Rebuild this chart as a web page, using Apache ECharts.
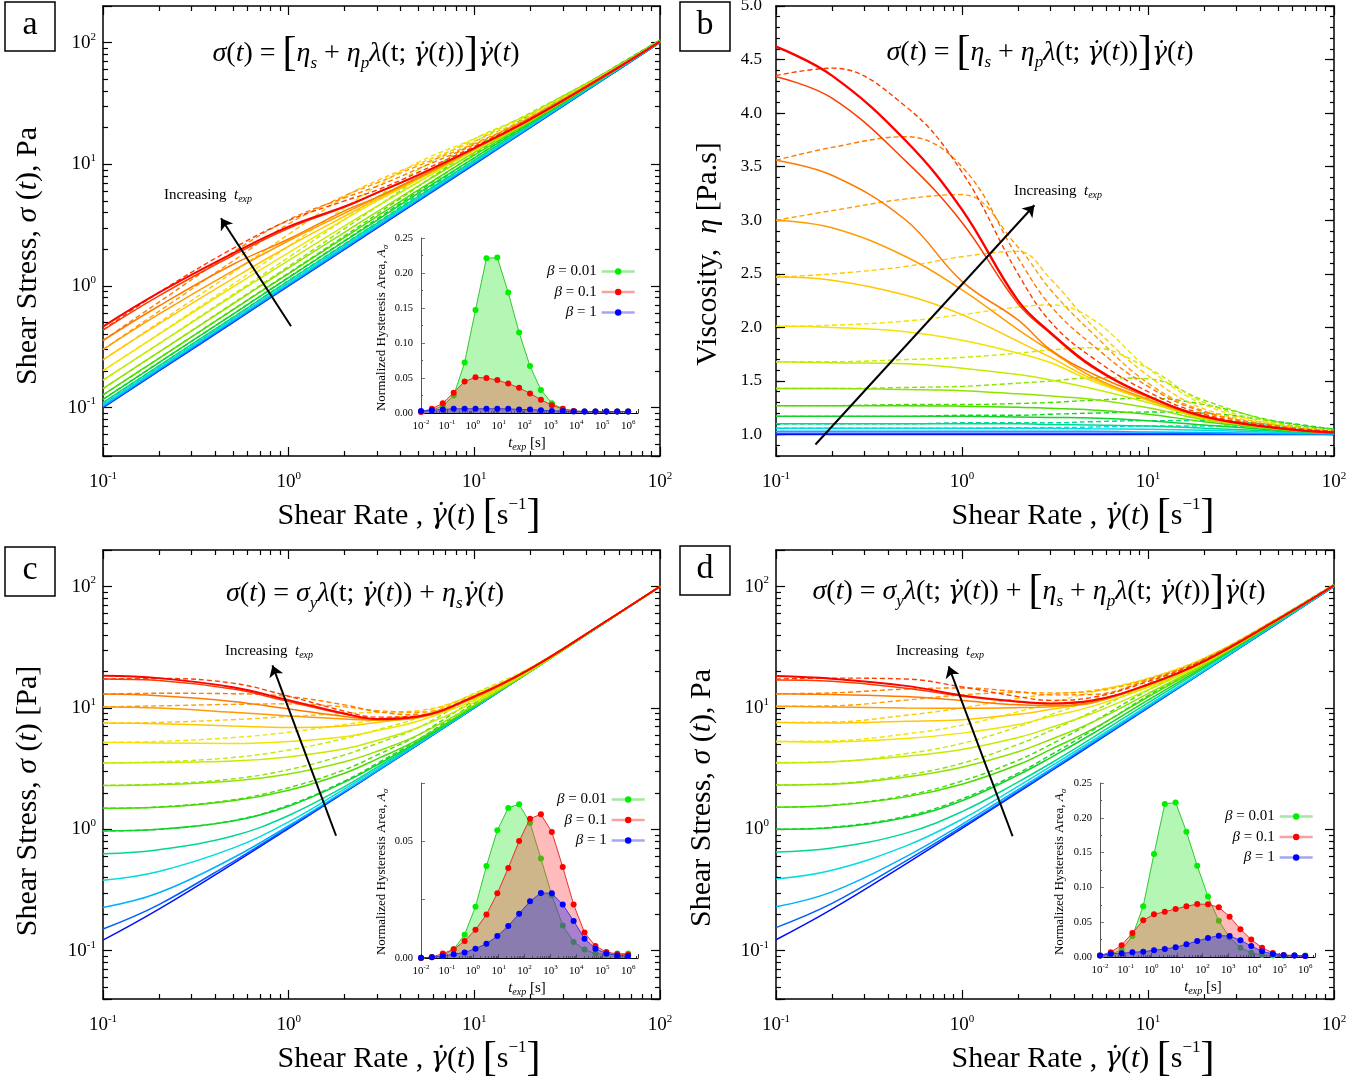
<!DOCTYPE html>
<html>
<head>
<meta charset="utf-8">
<script src="https://cdn.jsdelivr.net/npm/echarts@6/dist/echarts.min.js"></script>
<style>
  html, body { margin: 0; background: #fff; }
  #chart { width: 1372px; height: 1083px; }
</style>
</head>
<body>
<div id="chart"></div>
<script>
var rates = [0.1, 0.2, 0.5, 1, 2, 3, 5, 10, 20, 50, 100];
// from longest t_exp (red) to shortest (blue)
var sweepColors = ['#ff0000', '#ff3c00', '#ff7a00', '#ff9c00', '#ffc800', '#f0e400', '#c4ec00', '#8ee400',
                   '#48dc00', '#10d428', '#00d890', '#00dce0', '#00b0ff', '#0060ff', '#0010ff'];

// panel a : shear stress [Pa]
var aSolid = [
  [0.463, 0.88, 1.85, 3.07, 4.5, 5.85, 8.2, 13.6, 23.4, 53, 102],
  [0.434, 0.83, 1.78, 2.98, 4.44, 5.82, 8.15, 13.6, 23.4, 53, 102],
  [0.356, 0.684, 1.5, 2.43, 4.14, 5.37, 7.85, 13.5, 23.4, 53, 102],
  [0.30, 0.586, 1.33, 2.35, 3.96, 5.34, 7.7, 13.3, 23.2, 53, 102],
  [0.247, 0.488, 1.15, 2.12, 3.74, 5.16, 7.6, 13.2, 23.2, 53, 102],
  [0.201, 0.40, 0.98, 1.88, 3.52, 5.0, 7.5, 13.2, 23.2, 53, 102],
  [0.168, 0.334, 0.83, 1.62, 3.12, 4.53, 7.15, 13.0, 23.0, 53, 102],
  [0.143, 0.286, 0.71, 1.41, 2.76, 4.08, 6.65, 12.5, 22.8, 52.5, 102],
  [0.127, 0.254, 0.635, 1.265, 2.51, 3.74, 6.15, 11.9, 22.4, 52.5, 102],
  [0.117, 0.234, 0.585, 1.17, 2.33, 3.48, 5.78, 11.3, 21.8, 52, 102],
  [0.110, 0.22, 0.55, 1.10, 2.2, 3.29, 5.45, 10.8, 21.2, 51.5, 101],
  [0.106, 0.212, 0.53, 1.06, 2.12, 3.18, 5.28, 10.5, 20.8, 51, 101],
  [0.103, 0.206, 0.515, 1.03, 2.06, 3.09, 5.15, 10.25, 20.4, 50.5, 100.5],
  [0.101, 0.202, 0.506, 1.012, 2.02, 3.04, 5.06, 10.1, 20.2, 50.3, 100.3],
  [0.1, 0.2, 0.5, 1, 2, 3, 5, 10, 20, 50, 100]
];
var aDashed = [
  [0.435, 0.884, 2.03, 3.45, 5.0, 6.15, 8.6, 14.0, 23.8, 53.5, 103],
  [0.356, 0.736, 1.89, 3.5, 5.3, 6.6, 9.2, 14.5, 24.2, 54, 103],
  [0.30, 0.618, 1.6, 3.24, 5.5, 7.05, 9.75, 14.8, 24.4, 54, 103],
  [0.247, 0.50, 1.29, 2.66, 5.42, 7.35, 10.1, 15.5, 24.8, 54.5, 103],
  [0.201, 0.404, 1.03, 2.12, 4.38, 6.63, 10.4, 16.2, 25.6, 54.5, 103],
  [0.168, 0.336, 0.85, 1.72, 3.52, 5.37, 9.05, 16.2, 26, 55, 104],
  [0.143, 0.286, 0.72, 1.45, 2.96, 4.5, 7.65, 15.2, 26.4, 55.5, 104],
  [0.127, 0.254, 0.64, 1.28, 2.58, 3.9, 6.6, 13.4, 25.6, 56, 105],
  [0.117, 0.234, 0.585, 1.18, 2.36, 3.57, 6.0, 12.1, 24, 56, 105],
  [0.11, 0.22, 0.55, 1.11, 2.22, 3.33, 5.6, 11.3, 22.6, 54.5, 105],
  [0.106, 0.212, 0.53, 1.06, 2.13, 3.2, 5.33, 10.7, 21.6, 53.5, 105]
];

// panel b : viscosity [Pa.s]
var bSolid = [
  [4.62, 4.35, 3.74, 3.10, 2.25, 1.95, 1.64, 1.36, 1.17, 1.06, 1.02],
  [4.34, 4.14, 3.55, 2.98, 2.22, 1.94, 1.63, 1.36, 1.17, 1.06, 1.02],
  [3.56, 3.42, 3.0, 2.43, 2.07, 1.79, 1.57, 1.35, 1.17, 1.06, 1.02],
  [3.0, 2.93, 2.66, 2.35, 1.98, 1.78, 1.54, 1.33, 1.16, 1.06, 1.02],
  [2.47, 2.44, 2.30, 2.12, 1.87, 1.72, 1.52, 1.32, 1.16, 1.06, 1.02],
  [2.01, 2.0, 1.96, 1.88, 1.76, 1.67, 1.50, 1.32, 1.16, 1.06, 1.02],
  [1.68, 1.67, 1.66, 1.62, 1.56, 1.51, 1.43, 1.30, 1.15, 1.06, 1.02],
  [1.43, 1.43, 1.42, 1.41, 1.38, 1.36, 1.33, 1.25, 1.14, 1.05, 1.02],
  [1.27, 1.27, 1.27, 1.265, 1.255, 1.245, 1.23, 1.19, 1.12, 1.05, 1.02],
  [1.17, 1.17, 1.17, 1.17, 1.165, 1.16, 1.155, 1.13, 1.09, 1.04, 1.02],
  [1.10, 1.10, 1.10, 1.10, 1.10, 1.095, 1.09, 1.08, 1.06, 1.03, 1.01],
  [1.06, 1.06, 1.06, 1.06, 1.06, 1.06, 1.055, 1.05, 1.04, 1.02, 1.01],
  [1.03, 1.03, 1.03, 1.03, 1.03, 1.03, 1.03, 1.025, 1.02, 1.01, 1.005],
  [1.012, 1.012, 1.012, 1.012, 1.012, 1.012, 1.012, 1.01, 1.008, 1.005, 1.003],
  [1.0, 1.0, 1.0, 1.0, 1.0, 1.0, 1.0, 1.0, 1.0, 1.0, 1.0]
];
var bDashed = [
  [4.35, 4.42, 4.06, 3.45, 2.50, 2.05, 1.72, 1.40, 1.19, 1.07, 1.03],
  [3.56, 3.68, 3.78, 3.50, 2.65, 2.2, 1.84, 1.45, 1.21, 1.08, 1.03],
  [3.0, 3.09, 3.2, 3.24, 2.75, 2.35, 1.95, 1.48, 1.22, 1.08, 1.03],
  [2.47, 2.50, 2.57, 2.66, 2.71, 2.45, 2.02, 1.55, 1.24, 1.09, 1.03],
  [2.01, 2.02, 2.06, 2.12, 2.19, 2.21, 2.08, 1.62, 1.28, 1.09, 1.03],
  [1.68, 1.68, 1.70, 1.72, 1.76, 1.79, 1.81, 1.62, 1.30, 1.10, 1.04],
  [1.43, 1.43, 1.44, 1.45, 1.48, 1.50, 1.53, 1.52, 1.32, 1.11, 1.04],
  [1.27, 1.27, 1.28, 1.28, 1.29, 1.30, 1.32, 1.34, 1.28, 1.12, 1.05],
  [1.17, 1.17, 1.17, 1.18, 1.18, 1.19, 1.20, 1.21, 1.20, 1.12, 1.05],
  [1.10, 1.10, 1.10, 1.11, 1.11, 1.11, 1.12, 1.13, 1.13, 1.09, 1.05],
  [1.06, 1.06, 1.06, 1.06, 1.065, 1.065, 1.07, 1.08, 1.08, 1.07, 1.05]
];

// panel c : shear stress [Pa], yield stress model
var cSolid = [
  [18.4, 17.6, 14.8, 11.6, 9.0, 8.1, 8.5, 12.4, 21.0, 50.6, 100.2],
  [17.3, 16.8, 14.3, 11.3, 8.9, 8.1, 8.5, 12.4, 21.0, 50.6, 100.2],
  [13.0, 12.6, 11.3, 9.8, 8.5, 8.0, 8.4, 12.3, 20.9, 50.6, 100.2],
  [10.2, 10.0, 9.2, 8.6, 8.1, 7.9, 8.3, 12.2, 20.9, 50.5, 100.2],
  [7.5, 7.4, 7.1, 6.9, 7.1, 7.6, 8.6, 12.0, 20.8, 50.5, 100.1],
  [5.2, 5.15, 5.1, 5.3, 5.8, 6.5, 7.8, 11.6, 20.6, 50.5, 100.1],
  [3.52, 3.55, 3.65, 3.95, 4.6, 5.4, 6.9, 11.1, 20.3, 50.4, 100.1],
  [2.3, 2.33, 2.5, 2.85, 3.6, 4.4, 6.0, 10.6, 20.0, 50.3, 100.1],
  [1.49, 1.52, 1.72, 2.1, 2.9, 3.8, 5.5, 10.4, 20.0, 50.2, 100],
  [0.97, 1.0, 1.17, 1.55, 2.45, 3.4, 5.3, 10.3, 20.0, 50.1, 100],
  [0.63, 0.68, 0.88, 1.3, 2.25, 3.25, 5.2, 10.2, 20, 50, 100],
  [0.38, 0.45, 0.7, 1.15, 2.15, 3.15, 5.1, 10.1, 20, 50, 100],
  [0.227, 0.3, 0.58, 1.07, 2.06, 3.05, 5.05, 10.05, 20, 50, 100],
  [0.151, 0.24, 0.54, 1.04, 2.03, 3.02, 5.02, 10, 20, 50, 100],
  [0.122, 0.22, 0.52, 1.02, 2.02, 3.01, 5.01, 10, 20, 50, 100]
];
var cDashed = [
  [17.3, 17.5, 16.0, 12.5, 9.4, 8.4, 8.6, 12.5, 21, 50.6, 100.2],
  [13.0, 13.2, 13.1, 12.4, 10.6, 9.3, 8.8, 12.5, 21, 50.6, 100.2],
  [10.2, 10.4, 10.7, 10.8, 10.2, 9.5, 9.2, 12.6, 21, 50.6, 100.2],
  [7.5, 7.6, 8.0, 8.5, 9.0, 9.2, 9.5, 12.8, 21.2, 50.6, 100.2],
  [5.2, 5.3, 5.7, 6.3, 7.3, 8.0, 9.1, 13.0, 21.3, 50.6, 100.2],
  [3.52, 3.6, 3.9, 4.5, 5.6, 6.6, 8.3, 13.2, 21.5, 50.7, 100.2],
  [2.3, 2.36, 2.6, 3.1, 4.1, 5.1, 6.9, 12.5, 21.3, 50.6, 100.2],
  [1.49, 1.53, 1.75, 2.2, 3.1, 4.1, 6.0, 11.6, 21.0, 50.5, 100.1],
  [0.97, 1.0, 1.18, 1.58, 2.5, 3.5, 5.5, 10.9, 20.5, 50.3, 100.1]
];

// panel d : shear stress [Pa], yield stress + viscous model
var dSolid = [
  [18.3, 17.4, 15.2, 12.7, 11.3, 10.9, 11.5, 15.6, 24.2, 53.6, 102.2],
  [17.0, 16.6, 14.5, 12.5, 11.2, 10.85, 11.45, 15.6, 24.2, 53.6, 102.2],
  [13.1, 12.9, 12.4, 11.5, 10.6, 10.5, 11.2, 15.6, 24.2, 53.6, 102.2],
  [10.3, 10.2, 10.0, 9.95, 10.06, 10.24, 11.0, 15.5, 24.1, 53.5, 102.2],
  [7.6, 7.5, 7.75, 8.0, 8.85, 9.75, 11.2, 15.2, 24, 53.5, 102.1],
  [5.3, 5.25, 5.6, 6.2, 7.3, 8.5, 10.3, 14.8, 23.8, 53.5, 102.1],
  [3.52, 3.6, 4.0, 4.55, 5.7, 6.9, 9.0, 14.1, 23.3, 53.4, 102.1],
  [2.32, 2.35, 2.7, 3.25, 4.35, 5.5, 7.6, 13.1, 22.8, 52.8, 102.1],
  [1.52, 1.57, 1.85, 2.35, 3.4, 4.55, 6.65, 12.3, 22.4, 52.7, 102],
  [1.0, 1.03, 1.25, 1.72, 2.8, 3.9, 6.1, 11.6, 21.8, 52.1, 102],
  [0.65, 0.7, 0.93, 1.4, 2.45, 3.5, 5.65, 11.0, 21.2, 51.5, 101],
  [0.39, 0.46, 0.73, 1.21, 2.26, 3.3, 5.35, 10.5, 20.4, 51, 101],
  [0.23, 0.305, 0.595, 1.1, 2.12, 3.13, 5.17, 10.25, 20.2, 50.5, 100.5],
  [0.155, 0.245, 0.55, 1.05, 2.05, 3.05, 5.07, 10.1, 20.1, 50.3, 100.3],
  [0.123, 0.22, 0.52, 1.02, 2.02, 3.01, 5.01, 10, 20, 50, 100]
];
var dDashed = [
  [17.3, 17.6, 17.3, 14.9, 12.4, 11.55, 12.2, 16.5, 24.8, 54.1, 103],
  [13.1, 13.3, 14.3, 14.6, 13.6, 12.8, 12.9, 16.9, 25.2, 54.4, 103],
  [10.3, 10.4, 11.6, 12.8, 13.4, 13.3, 13.7, 17.3, 25.4, 54.6, 103],
  [7.6, 7.65, 8.7, 10.0, 12.0, 13.0, 13.9, 17.3, 25.4, 54.6, 103],
  [5.3, 5.35, 6.1, 7.2, 9.3, 11.0, 13.5, 17.6, 25.8, 54.6, 103],
  [3.55, 3.6, 4.2, 5.1, 7.0, 8.8, 11.6, 17.2, 25.6, 54.8, 103.2],
  [2.32, 2.37, 2.8, 3.5, 5.0, 6.5, 9.3, 15.8, 25.2, 55, 103.5],
  [1.52, 1.58, 1.9, 2.5, 3.7, 5.0, 7.6, 14.0, 24.2, 55, 104],
  [1.0, 1.04, 1.28, 1.78, 2.9, 4.1, 6.5, 12.6, 23, 54.5, 104]
];

// insets: normalized hysteresis area vs experiment time
var tExp = [0.01, 0.0263, 0.0695, 0.183, 0.483, 1.27, 3.36, 8.86, 23.4, 61.6, 162, 428, 1129, 2976,
            7848, 20691, 54556, 143845, 379269, 1000000];
var betaNames = ['\u03b2 = 0.01', '\u03b2 = 0.1', '\u03b2 = 1'];
var insetA001 = [0.002, 0.004, 0.010, 0.025, 0.072, 0.147, 0.221, 0.222, 0.172, 0.115, 0.067, 0.033, 0.014, 0.006, 0.003, 0.002, 0.002, 0.002, 0.002, 0.002];
var insetA01 = [0.0015, 0.006, 0.014, 0.029, 0.045, 0.051, 0.050, 0.047, 0.042, 0.036, 0.028, 0.019, 0.011, 0.006, 0.003, 0.002, 0.002, 0.002, 0.002, 0.002];
var insetA1 = [0.003, 0.004, 0.005, 0.006, 0.006, 0.006, 0.006, 0.006, 0.006, 0.005, 0.005, 0.004, 0.003, 0.003, 0.002, 0.002, 0.002, 0.002, 0.002, 0.002];
var insetC001 = [0.0, 0.0003, 0.001, 0.0037, 0.010, 0.022, 0.0394, 0.0547, 0.0643, 0.0659, 0.0579, 0.0426, 0.0269, 0.0139, 0.0069, 0.0036, 0.0019, 0.0016, 0.0019, 0.0019];
var insetC01 = [0.0, 0.0004, 0.0019, 0.0037, 0.0073, 0.0121, 0.0186, 0.0277, 0.0386, 0.0501, 0.0597, 0.0616, 0.054, 0.039, 0.0229, 0.0109, 0.0051, 0.0026, 0.0017, 0.0014];
var insetC1 = [0.0001, 0.0003, 0.0009, 0.0016, 0.0024, 0.004, 0.0061, 0.0094, 0.0137, 0.019, 0.0243, 0.0279, 0.0277, 0.0229, 0.0159, 0.0083, 0.004, 0.0019, 0.0011, 0.0009];
var insetD001 = [0.002, 0.004, 0.0105, 0.030, 0.073, 0.148, 0.220, 0.222, 0.180, 0.131, 0.087, 0.052, 0.028, 0.0134, 0.006, 0.003, 0.002, 0.002, 0.002, 0.002];
var insetD01 = [0.002, 0.007, 0.017, 0.0345, 0.0527, 0.0613, 0.065, 0.069, 0.0728, 0.076, 0.0757, 0.0714, 0.058, 0.040, 0.025, 0.0134, 0.0057, 0.0029, 0.002, 0.0014];
var insetD1 = [0.002, 0.0048, 0.0053, 0.0067, 0.0077, 0.0096, 0.0115, 0.0139, 0.0182, 0.023, 0.0273, 0.0307, 0.0302, 0.024, 0.0158, 0.0081, 0.0043, 0.0024, 0.002, 0.0014];

// "Increasing t_exp" arrows, tail then head, in data units
var arrowA = [[1.03, 0.466], [0.432, 3.6]];
var arrowB = [[0.163, 0.907], [2.45, 3.14]];
var arrowC = [[1.80, 0.885], [0.818, 22.4]];
var arrowD = [[1.87, 0.877], [0.848, 22.0]];

var F = 'Liberation Serif';
var GD = '\u03b3\u0307';

function decadeLabel(v) {
  var e = Math.log10(v), n = Math.round(e);
  if (Math.abs(e - n) > 1e-6) return '';
  return '{b|10}{s|' + n + '}';
}
function tickRich(big, small) {
  return {
    b: { fontFamily: F, fontSize: big, color: '#000', lineHeight: big + 4 },
    s: { fontFamily: F, fontSize: small, color: '#000', lineHeight: small, verticalAlign: 'top' }
  };
}
var mainRich = tickRich(19, 11);
var insetRich = tickRich(11, 7);

var grids = [], xAxes = [], yAxes = [], series = [];

function logAxis(g, pos, min, max, labels, s) {
  return {
    type: 'log', logBase: 10, gridIndex: g, position: pos, min: min, max: max,
    axisLine: { show: true, onZero: false, lineStyle: { color: '#000', width: s.line } },
    axisTick: { show: true, inside: true, length: s.major, lineStyle: { color: '#000', width: s.tw } },
    minorTick: { show: true, splitNumber: 9, length: s.minor, lineStyle: { color: '#000', width: s.tw } },
    axisLabel: { show: labels, formatter: decadeLabel, rich: s.rich, margin: s.margin, color: '#000' },
    splitLine: { show: false }, minorSplitLine: { show: false }
  };
}
var mainX = { line: 1.5, tw: 1.2, major: 9, minor: 5, rich: mainRich, margin: 15 };
var mainY = { line: 1.5, tw: 1.2, major: 9, minor: 5, rich: mainRich, margin: 7 };

function addGrid(left, top, width, height) {
  grids.push({ left: left, top: top, width: width, height: height, outerBoundsMode: 'none' });
  return grids.length - 1;
}

function mainLogPanel(left, top, width, height) {
  var g = addGrid(left, top, width, height);
  var xi = xAxes.length, yi = yAxes.length;
  xAxes.push(logAxis(g, 'bottom', 0.1, 100, true, mainX));
  xAxes.push(logAxis(g, 'top', 0.1, 100, false, mainX));
  yAxes.push(logAxis(g, 'left', 0.04, 200, true, mainY));
  yAxes.push(logAxis(g, 'right', 0.04, 200, false, mainY));
  return { x: xi, y: yi };
}

function viscAxis(g, pos, labels, major) {
  var ax = {
    type: 'value', gridIndex: g, position: pos, min: 0.8, max: 5.0, interval: 0.1,
    axisLine: { show: !major, onZero: false, lineStyle: { color: '#000', width: 1.5 } },
    axisTick: { show: true, inside: true, length: major ? 9 : 4, lineStyle: { color: '#000', width: 1.2 } },
    axisLabel: {
      show: labels, margin: 14, color: '#000', fontFamily: F, fontSize: 17,
      formatter: function (v) { return Math.abs(v * 2 - Math.round(v * 2)) < 1e-6 ? v.toFixed(1) : ''; }
    },
    splitLine: { show: false }
  };
  if (major) ax.axisTick.customValues = [1.0, 1.5, 2.0, 2.5, 3.0, 3.5, 4.0, 4.5, 5.0];
  return ax;
}

function viscPanel(left, top, width, height) {
  var g = addGrid(left, top, width, height);
  var xi = xAxes.length, yi = yAxes.length;
  xAxes.push(logAxis(g, 'bottom', 0.1, 100, true, mainX));
  xAxes.push(logAxis(g, 'top', 0.1, 100, false, mainX));
  yAxes.push(viscAxis(g, 'left', true, false));
  yAxes.push(viscAxis(g, 'left', false, true));
  yAxes.push(viscAxis(g, 'right', false, false));
  yAxes.push(viscAxis(g, 'right', false, true));
  return { x: xi, y: yi };
}

function insetPanel(left, top, width, height, ymax, yint, labelFn) {
  var g = addGrid(left, top, width, height);
  var xi = xAxes.length, yi = yAxes.length;
  xAxes.push(logAxis(g, 'bottom', 0.01, 2.4e6, true,
    { line: 1, tw: 0.8, major: 4, minor: 2, rich: insetRich, margin: 6 }));
  yAxes.push({
    type: 'value', gridIndex: g, position: 'left', min: 0, max: ymax, interval: yint,
    axisLine: { show: true, onZero: false, lineStyle: { color: '#555', width: 1 } },
    axisTick: { show: true, inside: true, length: 4, lineStyle: { color: '#555', width: 0.8 } },
    minorTick: { show: yint > 0.03, splitNumber: 2, length: 2, lineStyle: { color: '#555' } },
    axisLabel: { margin: 8, color: '#000', fontFamily: F, fontSize: 10.5, formatter: labelFn },
    splitLine: { show: false }
  });
  return { x: xi, y: yi };
}

function curve(ax, vals, color, type, width) {
  return {
    type: 'line', xAxisIndex: ax.x, yAxisIndex: ax.y, smooth: 0.4, symbol: 'none', silent: true,
    data: rates.map(function (r, k) { return [r, vals[k]]; }),
    lineStyle: { color: color, width: width, type: type }, z: 2
  };
}

function addSweep(ax, solid, dashed, redWidth) {
  for (var i = solid.length - 1; i >= 0; i--) {
    series.push(curve(ax, solid[i], sweepColors[i], 'solid', i === 0 ? redWidth : 1.5));
    var j = i - 1;
    if (j >= 0 && j < dashed.length) series.push(curve(ax, dashed[j], sweepColors[i], [5, 3], 1.4));
  }
}

function addArrow(ax, coords) {
  series.push({
    type: 'lines', coordinateSystem: 'cartesian2d', xAxisIndex: ax.x, yAxisIndex: ax.y, silent: true,
    symbol: ['none', 'arrow'], symbolSize: 11, z: 20,
    lineStyle: { color: '#000', width: 2, opacity: 1, curveness: 0 },
    data: [{ coords: coords }]
  });
}

var insetLook = [
  { line: '#30c830', dot: '#00ee00', area: 'rgba(40,230,40,0.35)', z: 3 },
  { line: '#e83030', dot: '#ff0000', area: 'rgba(255,60,60,0.35)', z: 4 },
  { line: '#3838e8', dot: '#0000ff', area: 'rgba(40,40,230,0.40)', z: 5 }
];
function addInset(ax, sets) {
  sets.forEach(function (vals, k) {
    var look = insetLook[k];
    series.push({
      type: 'line', name: betaNames[k], xAxisIndex: ax.x, yAxisIndex: ax.y, silent: true,
      data: tExp.map(function (t, m) { return [t, vals[m]]; }),
      symbol: 'circle', symbolSize: 6, showSymbol: true, z: look.z,
      itemStyle: { color: look.dot },
      lineStyle: { color: look.line, width: 1 },
      areaStyle: { color: look.area, opacity: 1 }
    });
  });
}

var axA = mainLogPanel(103, 6, 557, 450);
var axB = viscPanel(776, 6, 558, 450);
var axC = mainLogPanel(103, 550, 557, 449);
var axD = mainLogPanel(776, 550, 558, 449);
var fmt2 = function (v) { return v.toFixed(2); };
var fmtC = function (v) { return (Math.abs(v) < 1e-9 || Math.abs(v - 0.05) < 1e-9) ? v.toFixed(2) : ''; };
var inA = insetPanel(421, 238, 217, 175, 0.25, 0.05, fmt2);
var inC = insetPanel(421, 783, 217, 175, 0.075, 0.025, fmtC);
var inD = insetPanel(1100, 783, 215, 174, 0.25, 0.05, fmt2);

addSweep(axA, aSolid, aDashed, 1.9);
addSweep(axB, bSolid, bDashed, 2.4);
addSweep(axC, cSolid, cDashed, 1.9);
addSweep(axD, dSolid, dDashed, 1.9);
addArrow(axA, arrowA);
addArrow(axB, arrowB);
addArrow(axC, arrowC);
addArrow(axD, arrowD);
addInset(inA, [insetA001, insetA01, insetA1]);
addInset(inC, [insetC001, insetC01, insetC1]);
addInset(inD, [insetD001, insetD01, insetD1]);

function legendAt(left, top) {
  return {
    data: betaNames, left: left, top: top, orient: 'vertical', align: 'right', selectedMode: false,
    itemWidth: 33, itemHeight: 8, itemGap: 5.5, padding: 0,
    lineStyle: { width: 2.5, opacity: 0.45 },
    formatter: function (name) { return '{i|\u03b2}{n|' + name.slice(1) + '}'; },
    textStyle: {
      color: '#000', rich: {
        i: { fontFamily: F, fontSize: 15, fontStyle: 'italic', color: '#000', lineHeight: 14 },
        n: { fontFamily: F, fontSize: 15, color: '#000', lineHeight: 14 }
      }
    }
  };
}

// text helpers for the math-like labels
function mathRich(size, subSize, brSize) {
  return {
    n: { fontFamily: F, fontSize: size, lineHeight: size * 1.3, fill: '#000' },
    i: { fontFamily: F, fontSize: size, fontStyle: 'italic', lineHeight: size * 1.3, fill: '#000' },
    g: { fontFamily: 'DejaVu Serif', fontSize: size * 0.9, fontStyle: 'italic', lineHeight: size * 1.3, fill: '#000' },
    sub: { fontFamily: F, fontSize: subSize, fontStyle: 'italic', lineHeight: subSize, verticalAlign: 'bottom', fill: '#000' },
    sup: { fontFamily: F, fontSize: subSize, lineHeight: subSize, verticalAlign: 'top', fill: '#000' },
    br: { fontFamily: F, fontSize: brSize, lineHeight: size * 1.3, fill: '#000' }
  };
}
function txt(x, y, text, rich, rot, align) {
  return {
    type: 'text', x: x, y: y, rotation: rot || 0, silent: true, z: 100,
    style: { text: text, rich: rich, align: align || 'center', verticalAlign: 'middle', fill: '#000' }
  };
}
function letterBox(x, y, ch) {
  return [
    { type: 'rect', silent: true, z: 100, shape: { x: x, y: y, width: 50, height: 49 },
      style: { fill: '#fff', stroke: '#000', lineWidth: 1.5 } },
    { type: 'text', silent: true, z: 101, x: x + 25, y: y + 23,
      style: { text: ch, fontFamily: F, fontSize: 34, fill: '#000', align: 'center', verticalAlign: 'middle' } }
  ];
}

var formRich = mathRich(28, 17, 42);
var titleRich = mathRich(30, 17, 42);
var incRich = mathRich(15, 10, 15);
var insRich = mathRich(13, 9, 13);
var insXRich = mathRich(15, 10, 15);

var G = '{g|' + GD + '}';
var formulaA = '{i|\u03c3}{n|(}{i|t}{n|) = }{br|[}{i|\u03b7}{sub|s}{n| + }{i|\u03b7}{sub|p}{i|\u03bb}{n|(t; }' + G + '{n|(}{i|t}{n|))}{br|]}' + G + '{n|(}{i|t}{n|)}';
var formulaC = '{i|\u03c3}{n|(}{i|t}{n|) = }{i|\u03c3}{sub|y}{i|\u03bb}{n|(t; }' + G + '{n|(}{i|t}{n|)) + }{i|\u03b7}{sub|s}' + G + '{n|(}{i|t}{n|)}';
var formulaD = '{i|\u03c3}{n|(}{i|t}{n|) = }{i|\u03c3}{sub|y}{i|\u03bb}{n|(t; }' + G + '{n|(}{i|t}{n|)) + }{br|[}{i|\u03b7}{sub|s}{n| + }{i|\u03b7}{sub|p}{i|\u03bb}{n|(t; }' + G + '{n|(}{i|t}{n|))}{br|]}' + G + '{n|(}{i|t}{n|)}';
var xTitle = '{n|Shear Rate , }' + G + '{n|(}{i|t}{n|) }{br|[}{n|s}{sup|\u22121}{br|]}';
var incText = '{n|Increasing  }{i|t}{sub|exp}';
var insY = '{n|Normalized Hysteresis Area, }{i|A}{sub|\u03c3}';
var insX = '{i|t}{sub|exp}{n| [s]}';

var elements = [].concat(
  letterBox(5, 2, 'a'), letterBox(680, 2, 'b'), letterBox(5, 547, 'c'), letterBox(680, 546, 'd'),
  [
    txt(366, 54, formulaA, formRich),
    txt(1040, 53, formulaA, formRich),
    txt(365, 594, formulaC, formRich),
    txt(1039, 592, formulaD, formRich),
    txt(409, 516, xTitle, titleRich),
    txt(1083, 516, xTitle, titleRich),
    txt(409, 1059, xTitle, titleRich),
    txt(1083, 1059, xTitle, titleRich),
    txt(28, 256, '{n|Shear Stress, }{i|\u03c3}{n| (}{i|t}{n|), Pa}', titleRich, Math.PI / 2),
    txt(708, 254, '{n|Viscosity,  }{i|\u03b7}{n| [Pa.s]}', titleRich, Math.PI / 2),
    txt(28, 801, '{n|Shear Stress, }{i|\u03c3}{n| (}{i|t}{n|) [Pa]}', titleRich, Math.PI / 2),
    txt(702, 798, '{n|Shear Stress, }{i|\u03c3}{n| (}{i|t}{n|), Pa}', titleRich, Math.PI / 2),
    txt(164, 195, incText, incRich, 0, 'left'),
    txt(1014, 191, incText, incRich, 0, 'left'),
    txt(225, 651, incText, incRich, 0, 'left'),
    txt(896, 651, incText, incRich, 0, 'left'),
    txt(382, 328, insY, insRich, Math.PI / 2),
    txt(382, 872, insY, insRich, Math.PI / 2),
    txt(1060, 872, insY, insRich, Math.PI / 2),
    txt(527, 443, insX, insXRich),
    txt(527, 988, insX, insXRich),
    txt(1203, 987, insX, insXRich)
  ]
);

var chart = echarts.init(document.getElementById('chart'), null, { renderer: 'canvas' });
chart.setOption({
  backgroundColor: '#fff',
  animation: false,
  textStyle: { fontFamily: F, color: '#000' },
  grid: grids,
  xAxis: xAxes,
  yAxis: yAxes,
  legend: [legendAt(547, 264), legendAt(557, 792), legendAt(1225, 809)],
  series: series,
  graphic: { elements: elements }
});
</script>
</body>
</html>
